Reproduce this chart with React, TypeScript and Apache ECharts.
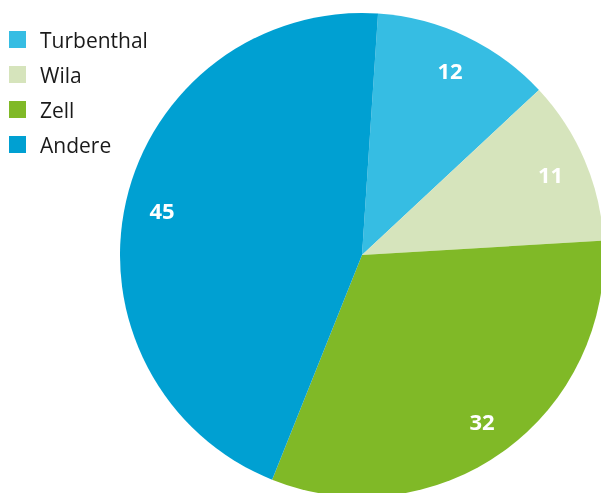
import React, { useEffect, useRef } from "react";
import * as echarts from "echarts";

const categories = ["Turbenthal", "Wila", "Zell", "Andere"];
const values = [12, 11, 32, 45];
const colors = ["#36bde3", "#d6e4bc", "#80b927", "#00a0d2"];

export default function App() {
  const ref = useRef<HTMLDivElement>(null);
  useEffect(() => {
    if (!ref.current) return;
    const chart = echarts.init(ref.current, undefined, { renderer: "svg" });
    const data = categories.map((name, i) => ({ name, value: values[i] }));
    const R = 242;
    chart.setOption({
      animation: false,
      color: colors,
      legend: {
        orient: "vertical",
        left: 4,
        top: 24,
        icon: "rect",
        itemWidth: 17,
        itemHeight: 17,
        itemGap: 14,
        selectedMode: false,
        textStyle: {
          fontFamily: "Open Sans",
          fontSize: 21,
          color: "#1a1a1a",
          lineHeight: 21,
          padding: [0, 0, 0, 9],
        },
        data: categories,
      },
      series: [
        {
          type: "pie",
          center: [362, 255],
          radius: [0, R],
          startAngle: 86.2,
          clockwise: true,
          silent: true,
          label: { show: false },
          labelLine: { show: false },
          data,
        },
        {
          type: "pie",
          center: [362, 255],
          radius: [R * 0.67, R],
          startAngle: 86.2,
          clockwise: true,
          silent: true,
          itemStyle: { color: "rgba(0,0,0,0)" },
          label: {
            show: true,
            position: "inside",
            formatter: "{c}",
            color: "#ffffff",
            fontFamily: "Open Sans",
            fontWeight: "bold",
            fontSize: 22,
          },
          labelLine: { show: false },
          data,
        },
      ],
    });
    return () => chart.dispose();
  }, []);
  return (
    <div
      ref={ref}
      style={{ position: "fixed", left: 0, top: 0, width: 601, height: 493 }}
    />
  );
}
